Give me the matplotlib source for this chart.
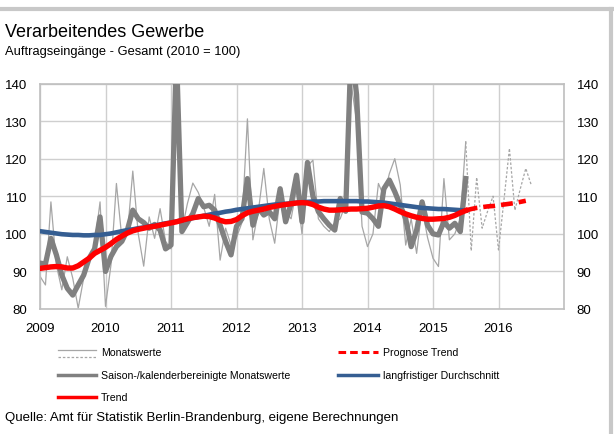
import numpy as np
import matplotlib
matplotlib.use("Agg")
import matplotlib.pyplot as plt
from matplotlib.lines import Line2D

plt.rcParams['font.family'] = ['Liberation Sans', 'DejaVu Sans']

# monthly values from Jan 2009 (index 0) to Jul 2015 (index 78)
monatswerte = [88.7, 86.4, 108.5, 91.7, 85.1, 93.9, 88.2, 80.2, 88.2, 93.0, 97.0, 108.5,
               80.7, 91.7, 113.4, 98.8, 99.7, 116.7, 100.0, 91.4, 104.5, 98.8, 106.7, 98.0,
               96.0, 145.0, 101.0, 108.0, 113.5, 111.0, 107.0, 102.0, 110.5, 93.0, 101.5, 97.0,
               99.0, 103.0, 130.6, 98.4, 106.0, 117.4, 104.0, 97.5, 110.0, 106.0, 104.0, 112.0,
               100.0, 118.0, 119.6, 104.0, 102.0, 100.6, 103.0, 104.0, 108.0, 140.0, 130.0, 102.0,
               96.6, 100.0, 113.4, 110.0, 116.0, 120.0, 113.0, 97.0, 104.0, 94.8, 107.0, 99.0,
               93.5, 91.3, 114.7, 98.4, 100.0, 104.0, 124.5]
# forecast of the monthly values, Jul 2015 to Jul 2016
monatswerte_prognose = [124.5, 95.5, 115.0, 101.5, 106.0, 110.0, 95.7, 109.0, 122.7, 106.3,
                        112.0, 117.4, 113.0]
saisonbereinigt = [92.2, 92.0, 98.8, 94.4, 89.0, 85.5, 83.7, 86.4, 89.0, 93.5, 96.0, 104.5,
                   90.0, 94.0, 96.6, 98.0, 101.0, 106.3, 104.0, 103.0, 101.5, 102.5, 101.0, 96.0,
                   97.0, 148.0, 100.6, 103.0, 105.4, 109.4, 107.2, 107.6, 106.3, 102.3, 98.0, 94.4,
                   102.0, 104.0, 114.7, 102.3, 107.0, 105.0, 105.9, 104.0, 112.0, 103.2, 108.0, 115.6,
                   103.2, 119.0, 110.0, 105.9, 104.0, 102.3, 101.0, 109.4, 106.0, 150.0, 137.0, 105.8,
                   105.5, 104.0, 102.0, 112.0, 114.3, 111.2, 107.6, 104.0, 96.6, 101.0, 108.5, 102.3,
                   100.0, 99.7, 103.2, 101.5, 102.8, 100.6, 114.7]
trend = [90.8, 91.0, 91.2, 91.3, 91.2, 90.9, 90.9, 91.5, 92.5, 93.5, 94.8, 95.6,
         96.4, 97.4, 98.5, 99.4, 100.2, 100.8, 101.2, 101.5, 101.8, 102.0, 102.3, 102.6,
         102.9, 103.2, 103.6, 104.0, 104.3, 104.5, 104.7, 104.6, 104.2, 103.6, 103.2, 103.3,
         103.8, 104.8, 105.6, 106.0, 106.3, 106.6, 107.0, 107.3, 107.6, 107.8, 108.0, 108.2,
         108.3, 108.2, 107.8, 107.1, 106.6, 106.3, 106.3, 106.4, 106.5, 106.6, 106.6, 106.7,
         106.8, 107.1, 107.4, 107.5, 107.2, 106.6, 105.9, 105.3, 104.8, 104.4, 104.1, 103.9,
         103.9, 104.0, 104.1, 104.4, 104.9, 105.6, 106.2]
trend_prognose = [106.2, 106.6, 106.9, 107.1, 107.3, 107.4, 107.6, 107.8, 108.0, 108.2,
                  108.5, 108.8]
durchschnitt = [100.7, 100.5, 100.3, 100.1, 99.9, 99.8, 99.7, 99.7, 99.6, 99.6, 99.7, 99.7,
                99.9, 100.1, 100.4, 100.7, 101.0, 101.2, 101.5, 101.7, 102.0, 102.2, 102.5, 102.8,
                103.0, 103.3, 103.6, 103.9, 104.2, 104.5, 104.8, 105.1, 105.4, 105.6, 105.9, 106.1,
                106.4, 106.6, 106.8, 107.0, 107.2, 107.4, 107.6, 107.8, 107.9, 108.0, 108.1, 108.3,
                108.4, 108.5, 108.6, 108.6, 108.7, 108.7, 108.7, 108.7, 108.7, 108.7, 108.7, 108.6,
                108.6, 108.5, 108.4, 108.3, 108.1, 107.9, 107.7, 107.5, 107.3, 107.1, 106.9, 106.8,
                106.7, 106.6, 106.6, 106.5, 106.4, 106.3, 106.2]

jahre = [2009, 2010, 2011, 2012, 2013, 2014, 2015, 2016]
y_ticks = [80, 90, 100, 110, 120, 130, 140]

start = 2009
x_main = start + np.arange(len(monatswerte)) / 12
x_mw_prog = start + (len(monatswerte) - 1 + np.arange(len(monatswerte_prognose))) / 12
x_tr_prog = start + (len(trend) - 1 + np.arange(len(trend_prognose))) / 12

W, H = 614, 435
fig = plt.figure(figsize=(W / 100, H / 100), dpi=100)
ax = fig.add_axes([40 / W, 1 - 310 / H, 524 / W, 225.5 / H])

grid_c = "#cfcfcf"
ax.plot(x_main, monatswerte, color="#a6a6a6", lw=0.9, zorder=2)
ax.plot(x_mw_prog, monatswerte_prognose, color="#a6a6a6", lw=0.9, ls=(0, (2, 1.5)), zorder=2)
ax.plot(x_main, saisonbereinigt, color="#808080", lw=3.8, zorder=3, solid_joinstyle="round")
ax.plot(x_main, durchschnitt, color="#355e92", lw=3.3, zorder=4)
ax.plot(x_main, trend, color="#ff0000", lw=3.9, zorder=5)
ax.plot(x_tr_prog, trend_prognose, color="#ff0000", lw=3.3, ls=(0, (2.6, 1.3)), zorder=5)

ax.set_xlim(2009, 2017)
ax.set_ylim(80, 140)
ax.set_xticks(jahre + [2017])
ax.set_xticklabels([str(j) for j in jahre] + [""])
ax.set_yticks(y_ticks)
ax.grid(True, color=grid_c, lw=1)
ax.set_axisbelow(True)
for s in ax.spines.values():
    s.set_color("#bfbfbf")
    s.set_linewidth(1.2)
ax.tick_params(length=0, labelsize=9.5, colors="black")
ax.tick_params(axis="x", pad=9)
ax.tick_params(axis="y", pad=9)
ax.tick_params(axis="y", labelright=True, right=False)

# titles
fig.text(5 / W, 1 - 37 / H, "Verarbeitendes Gewerbe", fontsize=13, va="baseline")
fig.text(5 / W, 1 - 55 / H, "Auftragseingänge - Gesamt (2010 = 100)", fontsize=9.3, va="baseline")

# legend drawn by hand
def handle(x0, x1, y, **kw):
    fig.add_artist(Line2D([x0 / W, x1 / W], [1 - y / H, 1 - y / H], **kw))

handle(58, 96, 351, color="#a6a6a6", lw=0.9)
handle(58, 96, 358, color="#a6a6a6", lw=0.9, ls=(0, (2, 1.5)))
fig.text(101 / W, 1 - 353 / H, "Monatswerte", fontsize=7.6, va="center")
handle(58, 96, 376, color="#808080", lw=2.5)
fig.text(101 / W, 1 - 376 / H, "Saison-/kalenderbereinigte Monatswerte", fontsize=7.6, va="center")
handle(58, 96, 398, color="#ff0000", lw=2.5)
fig.text(101 / W, 1 - 398 / H, "Trend", fontsize=7.6, va="center")
handle(338, 378, 353, color="#ff0000", lw=2.2, ls=(0, (2.5, 1.3)))
fig.text(383 / W, 1 - 353 / H, "Prognose Trend", fontsize=7.6, va="center")
handle(338, 378, 376, color="#355e92", lw=2.5)
fig.text(383 / W, 1 - 376 / H, "langfristiger Durchschnitt", fontsize=7.6, va="center")

fig.text(5 / W, 1 - 418 / H, "Quelle: Amt für Statistik Berlin-Brandenburg, eigene Berechnungen",
         fontsize=9.5, va="center")

# outer frame lines (top and right)
fig.add_artist(Line2D([0, 1], [1 - 10 / H, 1 - 10 / H], color="#c8c8c8", lw=3))
fig.add_artist(Line2D([611 / W, 611 / W], [0, 1 - 10 / H], color="#c8c8c8", lw=3))

fig.savefig("out.png", dpi=100)
